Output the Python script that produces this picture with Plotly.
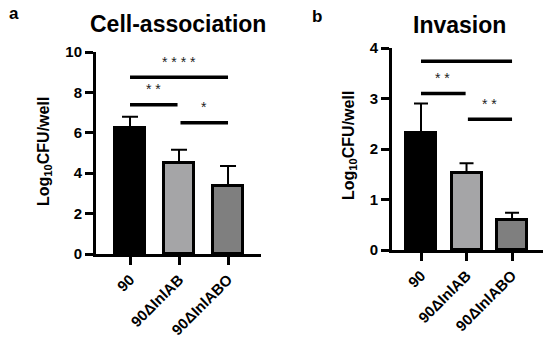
import plotly.graph_objects as go

categories = ["90", "90ΔInlAB", "90ΔInlABO"]
bar_colors = ["#000000", "#a5a5a7", "#7f7f7f"]

assoc_mean = [6.24, 4.52, 3.37]
assoc_err = [0.56, 0.64, 0.99]
inv_mean = [2.32, 1.53, 0.60]
inv_err = [0.58, 0.19, 0.14]

# significance: (x_start, x_end, line_y, label, label_x, label_y)
assoc_sig = [(0, 2, 8.75, "* * * *", 1.0, 9.70),
             (0, 0.97, 7.39, "* *", 0.48, 8.37),
             (1.03, 2, 6.50, "*", 1.5, 7.48)]
inv_sig = [(0, 2, 3.74, "* * * *", 1.0, 4.12),
           (0, 0.98, 3.10, "* *", 0.47, 3.49),
           (1.03, 2, 2.59, "* *", 1.5, 2.97)]

FONT = "Liberation Sans, Arial, sans-serif"
W, H = 550, 338

fig = go.Figure()

fig.add_trace(go.Bar(
    x=categories, y=assoc_mean, xaxis="x", yaxis="y", width=0.63,
    marker=dict(color=bar_colors, line=dict(color="black", width=3)),
    error_y=dict(type="data", symmetric=False, array=assoc_err,
                 arrayminus=[0, 0, 0], color="black", thickness=2, width=8),
    showlegend=False, hoverinfo="skip"))
fig.add_trace(go.Bar(
    x=categories, y=inv_mean, xaxis="x2", yaxis="y2", width=0.66,
    marker=dict(color=bar_colors, line=dict(color="black", width=3)),
    error_y=dict(type="data", symmetric=False, array=inv_err,
                 arrayminus=[0, 0, 0], color="black", thickness=2, width=7),
    showlegend=False, hoverinfo="skip"))

shapes = []
annotations = []
for xr, yr, sig in (("x", "y", assoc_sig), ("x2", "y2", inv_sig)):
    for x0, x1, ly, lab, lx, ty in sig:
        shapes.append(dict(type="line", xref=xr, yref=yr, x0=x0, x1=x1,
                           y0=ly, y1=ly, line=dict(color="black", width=3.5)))
        annotations.append(dict(x=lx, y=ty, xref=xr, yref=yr, text=lab,
                                showarrow=False, yshift=-4,
                                xanchor="center", yanchor="middle",
                                font=dict(family=FONT, size=14, color="#222222")))

paper_texts = [
    (178, 24, "Cell-association", 23, 0),
    (459, 25, "Invasion", 23, 0),
    (14, 14, "a", 17, 0),
    (317, 16, "b", 17, 0),
    (44, 152, "Log<sub>10</sub>CFU/well", 16, -90),
    (349, 146, "Log<sub>10</sub>CFU/well", 16, -90),
]
for px, py, txt, sz, ang in paper_texts:
    annotations.append(dict(x=px / W, y=1 - py / H, xref="paper", yref="paper",
                            text=txt, textangle=ang, showarrow=False,
                            xanchor="center", yanchor="middle",
                            font=dict(family=FONT, size=sz, color="black", weight="bold")))

tickfont = dict(family=FONT, size=15, color="black", weight="bold")
common_x = dict(showline=True, linecolor="black", linewidth=3, ticks="outside",
                ticklen=8, tickwidth=3, tickcolor="black", tickangle=-45,
                tickfont=dict(family=FONT, size=15, color="black", weight="bold"),
                showgrid=False, zeroline=False, type="category", automargin=False)
common_y = dict(showline=True, linecolor="black", linewidth=3, ticks="outside",
                ticklen=8, tickwidth=3, tickcolor="black", tickfont=tickfont,
                showgrid=False, zeroline=False, automargin=False)

fig.update_layout(
    width=W, height=H, margin=dict(l=0, r=0, t=0, b=0, pad=0, autoexpand=False),
    paper_bgcolor="white", plot_bgcolor="white",
    xaxis=dict(domain=[96 / W, 261 / W], range=[-0.694, 2.673], anchor="y", **common_x),
    yaxis=dict(domain=[1 - 254 / H, 1 - 52 / H], range=[0, 10], dtick=2, anchor="x", **common_y),
    xaxis2=dict(domain=[392 / W, 543 / W], range=[-0.637, 2.68], anchor="y2", **common_x),
    yaxis2=dict(domain=[1 - 250 / H, 1 - 48 / H], range=[0, 4], dtick=1, anchor="x2", **common_y),
    shapes=shapes, annotations=annotations, bargap=0, hovermode=False,
)

fig.write_html("out.html", config={"displayModeBar": False},
               post_script="document.body.style.margin='0px';document.body.style.overflow='hidden';")
